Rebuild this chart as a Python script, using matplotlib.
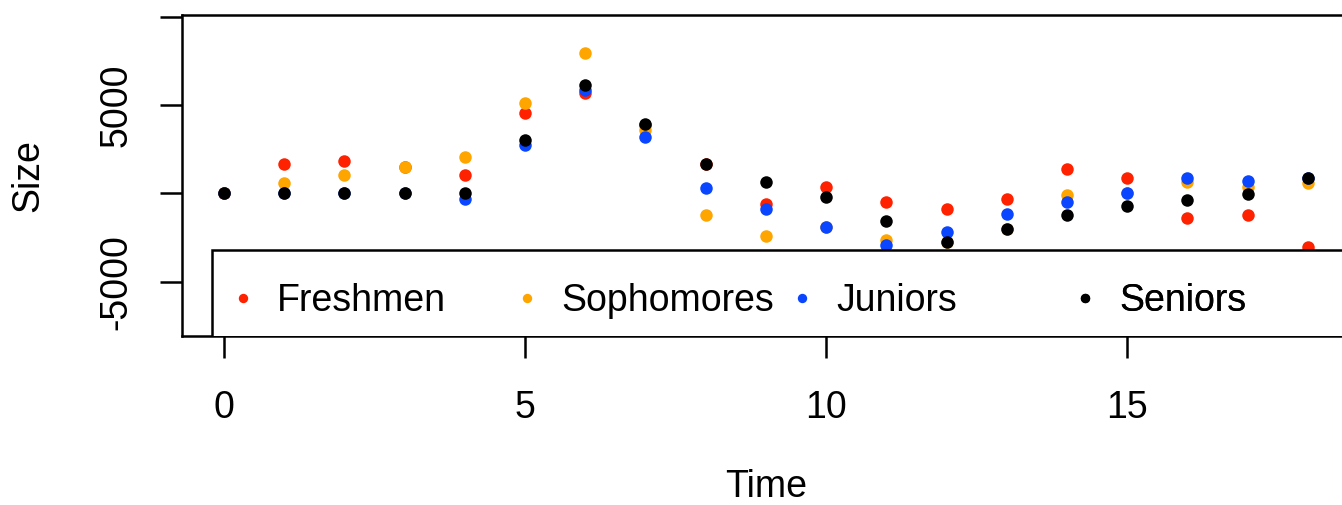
#!/usr/bin/env python3

import numpy as np
import matplotlib

matplotlib.use("Agg")
import matplotlib.pyplot as plt
import matplotlib.ticker as mticker
from matplotlib.patches import Rectangle


# values
time = list(range(19))
freshmen = [0, 1670, 1860, 1520, 1050, 4540, 5670, 3900, 1670, -590,
            390, -500, -880, -330, 1370, 860, -1400, -1220, -3010]
sophomores = [0, 580, 1050, 1520, 2050, 5140, 7970, 3590, -1220, -2400,
              -1880, -2630, -2730, -2030, -90, 0, 670, 390, 610]
juniors = [0, 0, 0, 0, -310, 2750, 5860, 3180, 330, -880,
           -1880, -2920, -2200, -1160, -460, 0, 860, 710, 860]
seniors = [0, 0, 0, 0, 0, 3030, 6140, 3920, 1670, 670,
           -180, -1540, -2730, -2030, -1220, -690, -370, -30, 860]

series_names = ["Freshmen", "Sophomores", "Juniors", "Seniors"]
series_colors = ["#ff2200", "#ffa500", "#0a45ff", "black"]

x_ticks = [0, 5, 10, 15]
y_ticks = [-5000, 0, 5000, 10000]
y_tick_labels = ["-5000", "", "5000", ""]

# left edge of each legend entry, axes fraction
legend_x = [0.046, 0.289, 0.5245, 0.767]


def main():
    plt.rcParams.update(
        {
            "font.family": ["Liberation Sans", "DejaVu Sans"],
            "font.size": 27,
        }
    )

    fig = plt.figure(figsize=(13.42, 5.05), dpi=100)
    ax = fig.add_axes([0.1354, 0.3347, 0.8706, 0.6356])

    t = np.array(time)
    handles = []
    for name, vals, color in zip(
        series_names, [freshmen, sophomores, juniors, seniors], series_colors
    ):
        (line,) = ax.plot(
            t,
            vals,
            linestyle="none",
            marker="o",
            markersize=9,
            markeredgewidth=0,
            color=color,
            label=name,
            zorder=2,
        )
        handles.append(line)

    ax.set_xlim(-0.7, 18.7)
    ax.set_ylim(-8066, 10103)

    ax.xaxis.set_major_locator(mticker.FixedLocator(x_ticks))
    ax.yaxis.set_major_locator(mticker.FixedLocator(y_ticks))
    ax.yaxis.set_major_formatter(mticker.FixedFormatter(y_tick_labels))

    for side in ["left", "bottom", "top", "right"]:
        ax.spines[side].set_linewidth(1.8)

    ax.tick_params(axis="both", which="major", direction="out",
                   length=16, width=1.8, labelsize=27)
    ax.tick_params(axis="x", pad=23)
    ax.tick_params(axis="y", pad=18)
    for lab in ax.get_yticklabels():
        lab.set_rotation(90)
        lab.set_va("center")
        lab.set_ha("right")

    ax.set_xlabel("Time", fontsize=27, va="center")
    ax.set_ylabel("Size", fontsize=27, va="center")
    ax.xaxis.set_label_coords(0.5, -0.471)
    ax.yaxis.set_label_coords(-0.1316, 0.5)

    # white legend box, clipped by the plot region like R does
    box = Rectangle(
        (0.0257, -0.2),
        1.2,
        0.468,
        transform=ax.transAxes,
        facecolor="white",
        edgecolor="black",
        linewidth=1.8,
        zorder=3,
    )
    ax.add_patch(box)

    for handle, x0 in zip(handles, legend_x):
        leg = ax.legend(
            [handle],
            [handle.get_label()],
            loc="center left",
            bbox_to_anchor=(x0, 0.109),
            frameon=False,
            borderpad=0,
            borderaxespad=0,
            handlelength=0.4,
            handletextpad=0.707,
            markerscale=0.75,
            fontsize=27,
        )
        leg.set_zorder(5)
        ax.add_artist(leg)

    fig.savefig("out.png", dpi=100)
    plt.close(fig)


if __name__ == "__main__":
    main()
